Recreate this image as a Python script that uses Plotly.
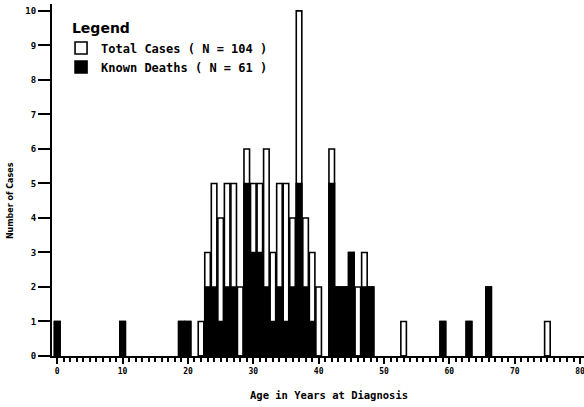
import plotly.graph_objects as go

ages = [0, 10, 19, 20, 22, 23, 24, 25, 26, 27, 28, 29, 30, 31, 32, 33, 34, 35, 36,
        37, 38, 39, 40, 42, 43, 44, 45, 46, 47, 48, 53, 59, 63, 66, 75]
total_cases = [1, 1, 1, 1, 1, 3, 5, 4, 5, 5, 2, 6, 5, 5, 6, 3, 5, 5, 4,
               10, 4, 3, 2, 6, 2, 2, 3, 2, 3, 2, 1, 1, 1, 2, 1]
known_deaths = [1, 1, 1, 1, 0, 2, 2, 1, 2, 2, 0, 5, 3, 3, 2, 1, 2, 1, 2,
                5, 2, 1, 0, 5, 2, 2, 3, 0, 2, 2, 0, 1, 1, 2, 0]
x_ticks = [0, 10, 20, 30, 40, 50, 60, 70, 80]
y_ticks = [0, 1, 2, 3, 4, 5, 6, 7, 8, 9, 10]

mono = "DejaVu Sans Mono"

fig = go.Figure()
fig.add_trace(go.Bar(
    x=ages, y=total_cases, name="<b>Total Cases ( N = 104 )</b>",
    width=0.85, marker=dict(color="white", line=dict(color="black", width=1.6)),
))
fig.add_trace(go.Bar(
    x=ages, y=known_deaths, name="<b>Known Deaths ( N = 61 )</b>",
    width=0.85, marker=dict(color="black", line=dict(color="black", width=1.6)),
))

fig.update_layout(
    width=584, height=407,
    barmode="overlay",
    paper_bgcolor="white", plot_bgcolor="white",
    margin=dict(l=52, r=0, t=4, b=51, autoexpand=False),
    font=dict(family=mono, size=9, color="black"),
    showlegend=True,
    legend=dict(
        x=0.017, y=0.968, xanchor="left", yanchor="top",
        title=dict(text="&nbsp;&nbsp;<b>Legend</b>", font=dict(size=14, family="DejaVu Sans"), side="top"),
        font=dict(size=12, family=mono),
        bgcolor="rgba(0,0,0,0)", tracegroupgap=0, itemwidth=30,
    ),
    annotations=[
        dict(text="<b>Age in Years at Diagnosis</b>", xref="paper", yref="paper",
             x=0.52, y=0, yshift=-39, xanchor="center", yanchor="middle",
             showarrow=False, font=dict(family=mono, size=10.5)),
        dict(text="<b>Number of Cases</b>", xref="paper", yref="paper",
             x=0, xshift=-42, y=0.44, xanchor="center", yanchor="middle",
             textangle=-90, showarrow=False, font=dict(family="DejaVu Sans", size=8)),
    ],
)
fig.update_xaxes(
    range=[-0.8, 80.6], tickmode="array", tickvals=x_ticks,
    ticktext=[f"<b>{v}</b>" for v in x_ticks],
    showline=True, linecolor="black", linewidth=2,
    ticks="outside", ticklen=6, tickwidth=2, tickcolor="black",
    minor=dict(dtick=1, ticks="outside", ticklen=4, tickwidth=1.5, tickcolor="black"),
    showgrid=False, zeroline=False, automargin=False,
    ticklabeloverflow="allow",
    tickfont=dict(size=8, family=mono),
)
fig.update_yaxes(
    range=[0, 10.2], tickmode="array", tickvals=y_ticks,
    ticktext=[f"<b>{v}</b>" for v in y_ticks],
    showline=True, linecolor="black", linewidth=2,
    ticks="outside", ticklen=12, tickwidth=2, tickcolor="black",
    showgrid=False, zeroline=False, automargin=False,
    tickfont=dict(size=9, family=mono),
)

fig.write_html(
    "out.html",
    config={"displayModeBar": False},
    post_script="document.body.style.margin='0px';document.body.style.overflow='hidden';",
)
